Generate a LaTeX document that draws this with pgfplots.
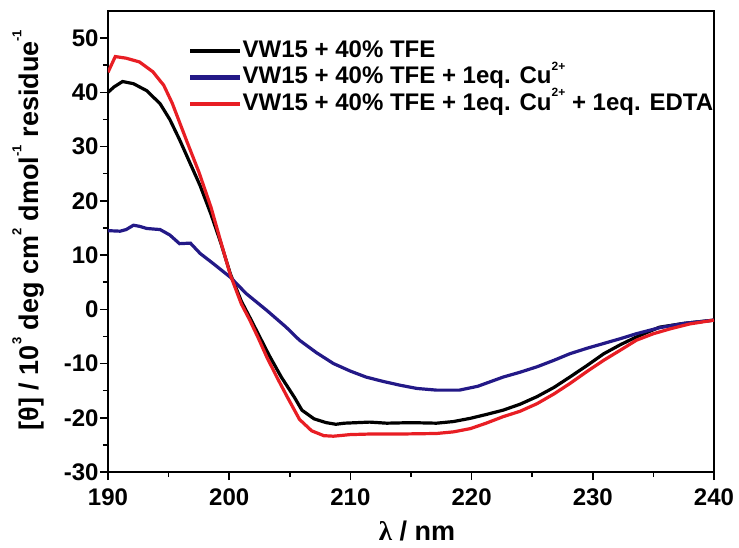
\documentclass[border=0pt]{standalone}
\usepackage{pgfplots}
\pgfplotsset{compat=1.18}
\usepackage{fontspec}
\setmainfont{Liberation Sans}
\newfontfamily\serifgreek{Liberation Serif}
\definecolor{cdblue}{RGB}{35,25,135}
\definecolor{cdred}{RGB}{232,30,36}
\newcommand{\sups}[1]{\raisebox{0.62em}{\fontsize{13}{13}\selectfont #1}}
\newcommand{\supl}[1]{\raisebox{0.55em}{\fontsize{12}{12}\selectfont #1}}
\begin{document}
\begin{tikzpicture}
\begin{axis}[
  scale only axis, width=606pt, height=461pt,
  xmin=190, xmax=240, ymin=-30, ymax=55,
  xtick={190,200,...,240}, ytick={-30,-20,...,50},
  minor xtick={195,205,...,235}, minor ytick={-25,-15,...,45},
  tick pos=left, tick align=outside,
  major tick length=8pt, minor tick length=5pt,
  axis line style={line width=1.5pt}, every tick/.style={line width=1.5pt, black},
  /pgf/number format/assume math mode=true,
  ticklabel style={font=\fontsize{24}{28}\selectfont\bfseries},
  xticklabel style={yshift=-5pt},
  yticklabel style={xshift=2pt},
  xlabel={{\serifgreek λ} / nm},
  ylabel={[θ] / 10\sups{3} deg cm\sups{2} dmol\sups{-1} residue\sups{-1}},
  label style={font=\fontsize{27}{30}\selectfont\bfseries},
  xlabel style={at={(axis description cs:0.51,-0.127)}, anchor=center},
  ylabel style={at={(axis description cs:-0.132,0.525)}, anchor=center},
  legend cell align=left,
  legend style={draw=none, fill=none, at={(0.127,0.944)}, anchor=north west,
    font=\fontsize{24}{28}\selectfont\bfseries,
    nodes={inner sep=0pt, text height=18pt, text depth=6pt},
    row sep=2.5pt},
  legend image code/.code={\draw[line width=4.5pt] (-3pt,0pt) -- (47pt,0pt);},
]
\addplot[black, line width=3.2pt] coordinates {
(190.0,40.0) (190.5,41.0) (191.2,42.0) (192.1,41.6) (193.2,40.3) (194.3,37.9)
(195.1,35.0) (195.9,31.3) (196.6,27.8) (197.6,22.8) (198.5,17.5) (199.3,12.3)
(200.1,6.5) (201.0,1.5) (201.7,-1.5) (202.5,-5.0) (203.3,-8.5) (204.3,-12.5)
(205.4,-16.3) (206.0,-18.6) (207.0,-20.2) (208.0,-20.9) (208.8,-21.2) (209.5,-21.0)
(211.6,-20.8) (213.0,-21.0) (215.0,-20.9) (217.1,-21.0) (218.5,-20.7) (219.9,-20.1)
(221.2,-19.4) (222.6,-18.6) (224.0,-17.5) (225.4,-16.1) (226.8,-14.4) (228.1,-12.5)
(229.5,-10.4) (230.9,-8.2) (232.3,-6.5) (233.6,-5.1) (235.5,-3.3) (237.5,-2.6) (240.0,-2.0)
};
\addlegendentry{VW15 + 40\% TFE}
\addplot[cdblue, line width=3.2pt] coordinates {
(190.0,14.5) (191.0,14.4) (191.5,14.7) (192.1,15.5) (192.6,15.3) (193.2,14.9)
(194.3,14.7) (195.1,13.7) (195.9,12.1) (196.8,12.2) (197.6,10.3) (198.7,8.4)
(200.1,5.9) (201.4,2.9) (203.1,-0.2) (204.7,-3.3) (205.8,-5.7) (207.2,-8.0)
(208.6,-10.0) (210.0,-11.4) (211.3,-12.5) (212.7,-13.3) (214.1,-14.0) (215.5,-14.6)
(217.1,-14.9) (219.0,-14.9) (220.5,-14.2) (222.6,-12.5) (224.0,-11.6) (225.4,-10.6)
(226.8,-9.4) (228.1,-8.2) (229.5,-7.2) (230.9,-6.3) (232.3,-5.4) (233.6,-4.5)
(235.5,-3.4) (237.5,-2.6) (240.0,-2.0)
};
\addlegendentry{VW15 + 40\% TFE + 1eq. Cu\supl{2+}}
\addplot[cdred, line width=3.2pt] coordinates {
(190.0,43.7) (190.6,46.6) (191.5,46.3) (192.6,45.6) (193.7,43.8) (194.6,41.3)
(195.3,38.0) (195.9,34.5) (196.5,31.0) (197.5,25.3) (198.5,18.8) (199.3,12.5)
(200.1,6.3) (201.0,1.0) (201.7,-2.0) (202.4,-5.3) (203.1,-8.8) (204.0,-12.8)
(204.8,-16.2) (205.8,-20.3) (206.8,-22.4) (207.8,-23.3) (208.6,-23.4) (210.0,-23.1)
(211.6,-23.0) (214.0,-23.0) (217.1,-22.9) (218.5,-22.6) (219.9,-22.0) (221.2,-21.0)
(222.6,-19.8) (224.0,-18.8) (225.4,-17.4) (226.8,-15.6) (228.1,-13.7) (229.5,-11.5)
(230.9,-9.4) (232.3,-7.5) (233.6,-5.7) (235.0,-4.5) (236.4,-3.6) (238.0,-2.7) (240.0,-2.0)
};
\addlegendentry{VW15 + 40\% TFE + 1eq. Cu\supl{2+} + 1eq. EDTA}
\end{axis}
\pgfresetboundingbox
\path ([xshift=-108pt,yshift=-75pt]current axis.south west) rectangle ([xshift=25pt,yshift=11pt]current axis.north east);
\end{tikzpicture}
\end{document}
